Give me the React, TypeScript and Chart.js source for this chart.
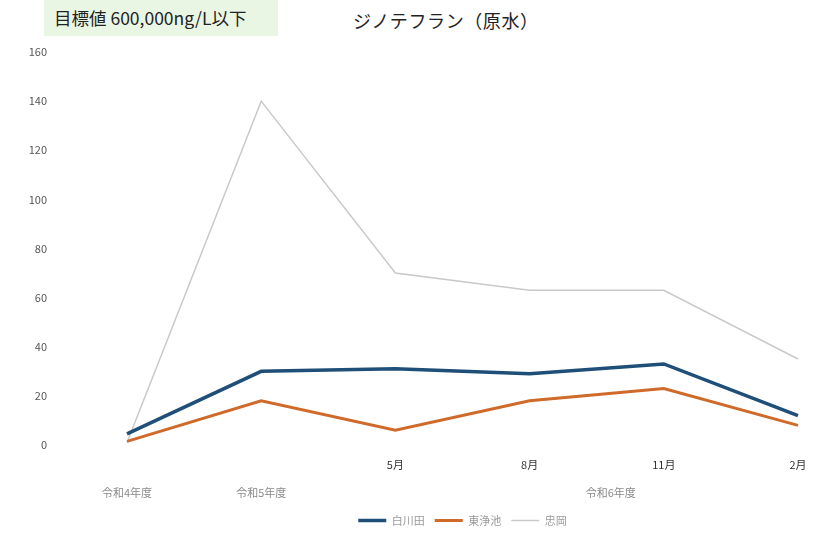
import React, { useEffect, useRef } from "react";
import { Chart, registerables } from "chart.js";

Chart.register(...registerables);

const monthLabels = ["", "", "5月", "8月", "11月", "2月"];
const yearGroups = [
  { label: "令和4年度", from: 0, to: 0 },
  { label: "令和5年度", from: 1, to: 1 },
  { label: "令和6年度", from: 3, to: 4 },
];
const shirakawada = [4.5, 30, 31, 29, 33, 12];
const higashi = [1.5, 18, 6, 18, 23, 8];
const tadaoka = [1, 140, 70, 63, 63, 35];
const yTicksMax = 160;
const yStep = 20;

const FONT = "'Noto Sans CJK JP', 'Noto Sans', sans-serif";

const yearLabelPlugin = {
  id: "yearLabels",
  afterDraw(chart: any) {
    const x = chart.scales.x;
    const ctx = chart.ctx;
    ctx.save();
    ctx.font = `11px ${FONT}`;
    ctx.fillStyle = "#8a8a8a";
    ctx.textAlign = "center";
    ctx.textBaseline = "middle";
    const y = chart.chartArea.bottom + 48;
    yearGroups.forEach((g) => {
      const mid = (x.getPixelForValue(g.from) + x.getPixelForValue(g.to)) / 2;
      ctx.fillText(g.label, g.from === g.to ? mid : mid + 14, y);
    });
    ctx.restore();
  },
};

export default function App() {
  const ref = useRef<HTMLCanvasElement>(null);
  useEffect(() => {
    if (!ref.current) return;
    const chart = new Chart(ref.current, {
      type: "line",
      data: {
        labels: monthLabels,
        datasets: [
          {
            label: "白川田",
            data: shirakawada,
            borderColor: "#1f4e79",
            backgroundColor: "#1f4e79",
            borderWidth: 3.5,
            pointRadius: 0,
            tension: 0,
          },
          {
            label: "東浄池",
            data: higashi,
            borderColor: "#cf6a2a",
            backgroundColor: "#cf6a2a",
            borderWidth: 3,
            pointRadius: 0,
            tension: 0,
          },
          {
            label: "忠岡",
            data: tadaoka,
            borderColor: "#c9c9c9",
            backgroundColor: "#c9c9c9",
            borderWidth: 1.5,
            pointRadius: 0,
            tension: 0,
          },
        ],
      },
      options: {
        animation: false,
        responsive: false,
        maintainAspectRatio: false,
        layout: { padding: { top: 52, right: 15, left: 0, bottom: 0 } },
        plugins: {
          title: { display: false },
          tooltip: { enabled: false },
          legend: {
            display: true,
            position: "bottom",
            fullSize: false,
            labels: {
              usePointStyle: true,
              pointStyle: "line",
              pointStyleWidth: 28,
              padding: 10,
              color: "#9a9a9a",
              font: { size: 11, family: FONT },
            },
          },
        },
        scales: {
          x: {
            offset: false,
            grid: { display: false, drawTicks: false },
            border: { display: false },
            ticks: {
              padding: 13,
              color: "#333",
              autoSkip: false,
              maxRotation: 0,
              font: { size: 11, family: FONT },
            },
            afterFit: (s: any) => {
              s.height = 60;
              s.paddingLeft = 0;
              s.paddingRight = 0;
            },
          },
          y: {
            min: 0,
            max: yTicksMax,
            grid: { display: false, drawTicks: false },
            border: { display: false },
            ticks: {
              stepSize: yStep,
              padding: 80,
              color: "#555",
              font: { size: 11, family: FONT },
            },
            afterFit: (s: any) => {
              s.width = 127;
              s.paddingTop = 0;
              s.paddingBottom = 0;
            },
          },
        },
      },
      plugins: [yearLabelPlugin],
    });
    return () => chart.destroy();
  }, []);

  return (
    <div style={{ position: "fixed", left: 0, top: 0, width: 813, height: 536, background: "#fff" }}>
      <div
        style={{
          position: "absolute",
          left: 44,
          top: 0,
          width: 234,
          height: 36,
          background: "#eaf6e4",
        }}
      />
      <div
        style={{
          position: "absolute",
          left: 54,
          top: 6,
          fontFamily: FONT,
          fontSize: 17.5,
          color: "#222",
          lineHeight: "24px",
          whiteSpace: "nowrap",
        }}
      >
        目標値 600,000ng/L以下
      </div>
      <div
        style={{
          position: "absolute",
          left: 353,
          top: 7,
          fontFamily: FONT,
          fontSize: 18,
          letterSpacing: 0.6,
          color: "#222",
          lineHeight: "26px",
          whiteSpace: "nowrap",
        }}
      >
        ジノテフラン（原水）
      </div>
      <canvas ref={ref} width={813} height={536} style={{ position: "absolute", left: 0, top: 0 }} />
    </div>
  );
}
